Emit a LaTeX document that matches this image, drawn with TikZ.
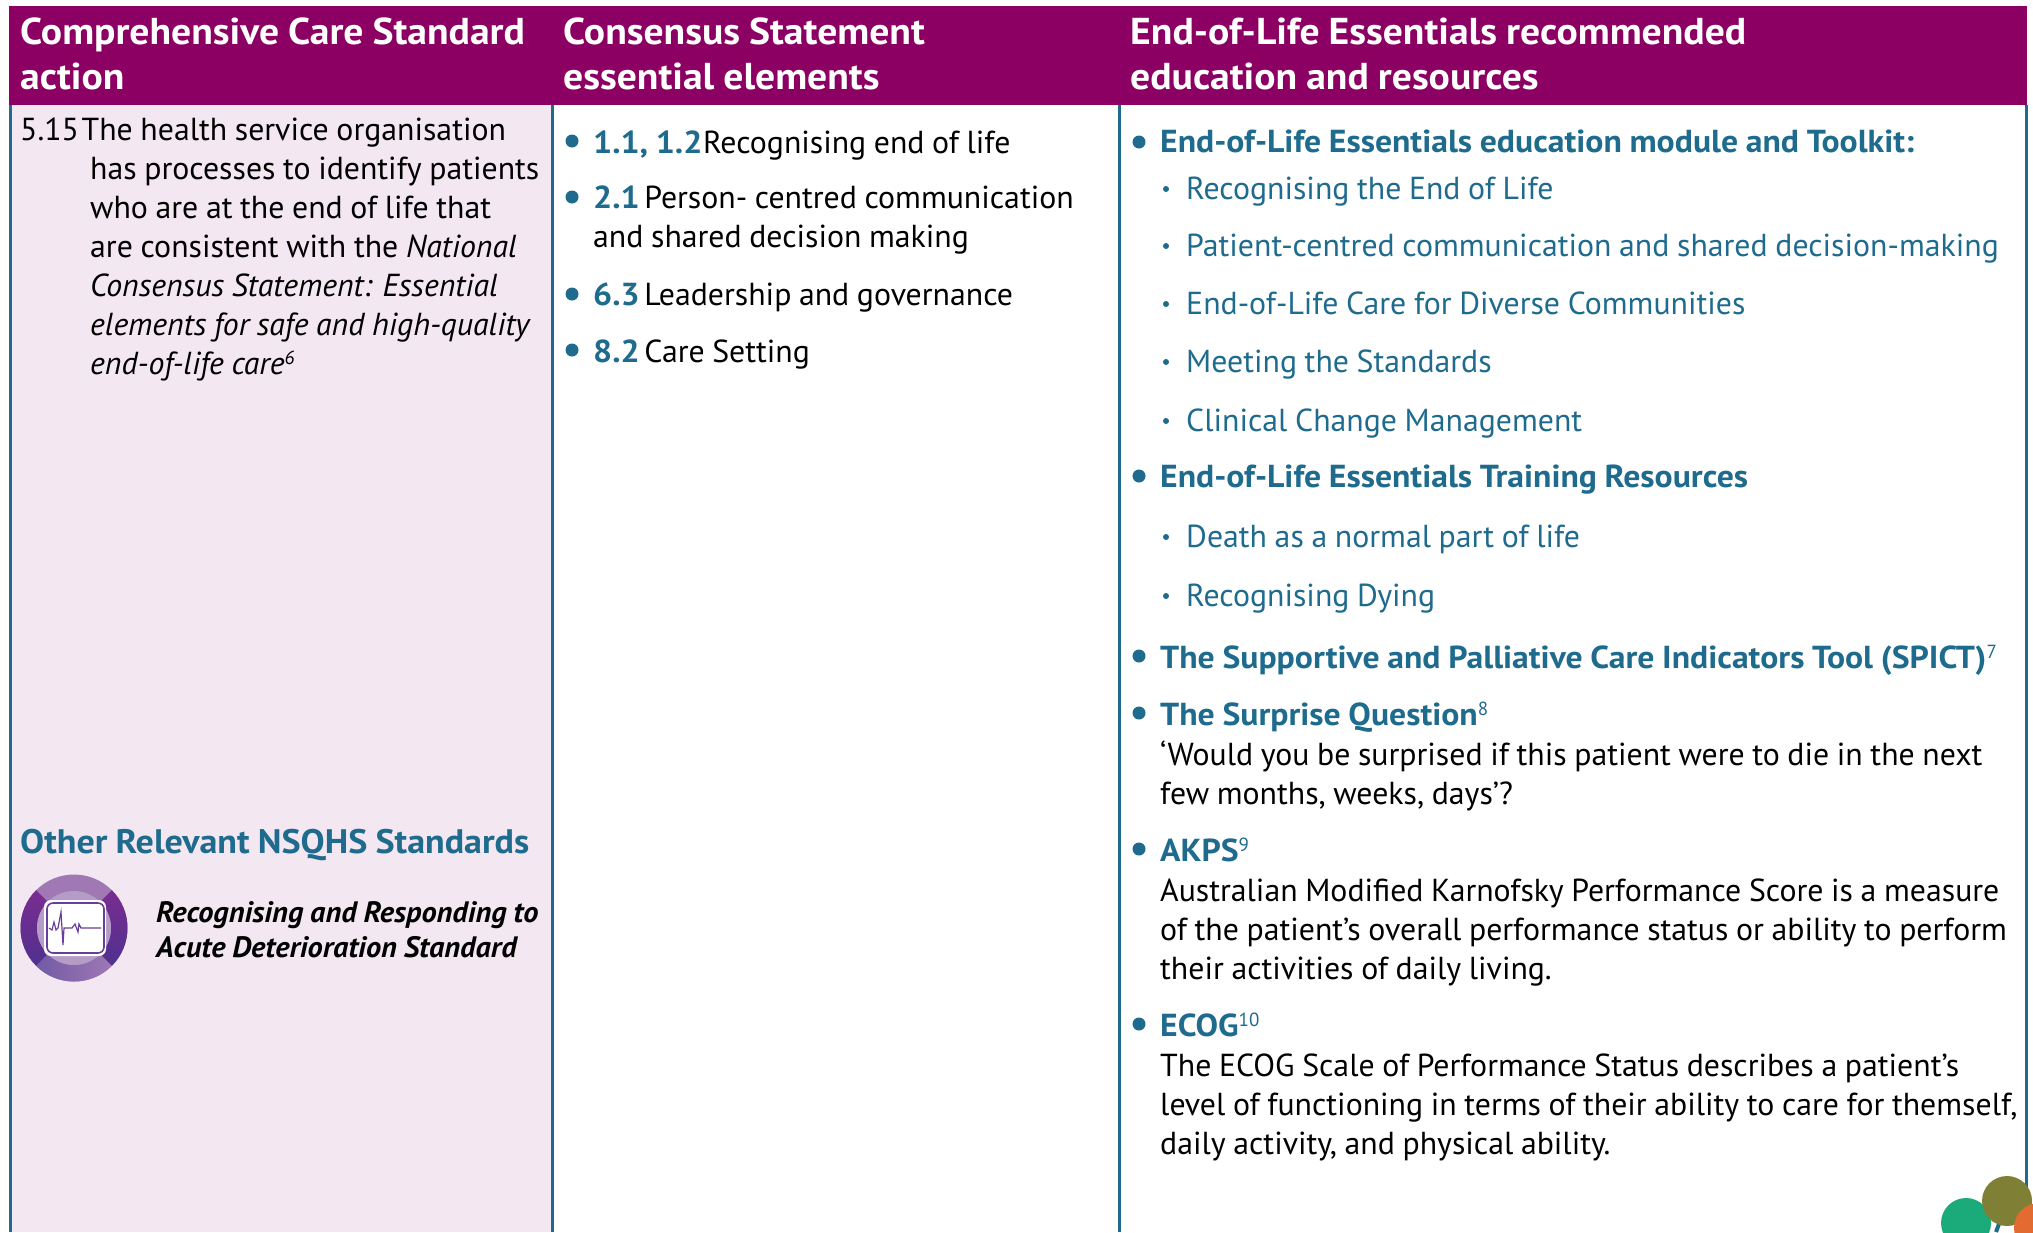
\documentclass[tikz,border=0pt]{standalone}
\usepackage{fontspec}
\setmainfont{PT Sans}[WordSpace=0.9,BoldFeatures={FakeStretch=1.06},BoldItalicFeatures={FakeStretch=1.03}]
\definecolor{headcol}{HTML}{8B0062}
\definecolor{topiccol}{HTML}{1F6B8E}
\definecolor{panecol}{HTML}{F3E7F2}
\definecolor{ringlight}{HTML}{9F78B4}
\definecolor{ringinner}{HTML}{B49CC6}
\definecolor{ringpurple}{HTML}{7A2C90}
\definecolor{ringblue}{HTML}{4F318F}
\definecolor{traceline}{HTML}{6A3D9A}
\definecolor{dotgreen}{HTML}{1BAA7A}
\definecolor{dotolive}{HTML}{7F8035}
\definecolor{dotorange}{HTML}{E36A30}
\newcommand{\notemark}[1]{\raisebox{10pt}{\fontsize{19}{19}\selectfont\mdseries #1}}
\tikzset{
  headtext/.style={anchor=base west,inner sep=0,align=left,text=white,font=\fontsize{37.4}{45}\selectfont\bfseries},
  bodytext/.style={anchor=base west,inner sep=0,align=left,text=black,font=\fontsize{31.8}{39}\selectfont},
  subtext/.style={bodytext,text=topiccol},
  toptext/.style={bodytext,text=topiccol,font=\fontsize{31.8}{39}\selectfont\bfseries},
  stdtext/.style={anchor=base west,inner sep=0,align=left,text=black,font=\fontsize{29.5}{35}\selectfont\bfseries\itshape},
  colline/.style={draw=topiccol,line width=3},
  bigdot/.style={fill=topiccol},
}
\begin{document}
\begin{tikzpicture}[x=1pt,y=-1pt]

    \useasboundingbox (0,0) rectangle (2033,1232);
    \clip (0,0) rectangle (2033,1232);

    \fill[white] (0,0) rectangle (2033,1232);
    \fill[panecol] (10,105) rectangle (552,1232);
    \draw[colline] (10,105) -- (10,1232);
    \draw[colline] (552,105) -- (552,1232);
    \draw[colline] (1119,105) -- (1119,1232);
    \draw[colline] (2026,105) -- (2026,1232);
    \fill[headcol] (9,6) rectangle (2027,105);

    % header row
    \node[headtext] (headaction) at (20,89) {Comprehensive Care Standard\\action};
    \node[headtext] (headconsensus) at (563,89) {Consensus Statement\\essential elements};
    \node[headtext] (headessentials) at (1130,89) {End-of-Life Essentials recommended\\education and resources};

    % first column
    \node[bodytext] (actionno) at (20,140) {5.15\kern-5pt{} The health service organisation};
    \node[bodytext] (actionrest) at (90,374) {has processes to identify patients\\who are at the end of life that\\are consistent with the \textit{National}\\\textit{Consensus Statement: Essential}\\\textit{elements for safe and high-quality}\\\textit{end-of-life care\notemark{6}}};

    \node[toptext,font=\fontsize{34}{39}\selectfont\bfseries] (otherhead) at (20,853) {Other Relevant NSQHS Standards};
    \node[stdtext] (stdname) at (156,957) {Recognising and Responding to\\Acute Deterioration Standard};

    \begin{scope}[shift={(74pt,-928pt)},x=1pt,y=1pt]

      \fill[ringlight] (0,0) circle (53.5);
      \shade[top color=ringpurple,bottom color=ringblue]
      (135:53.5) arc (135:225:53.5) -- (225:37) arc (225:135:37) -- cycle;
      \shade[top color=ringpurple,bottom color=ringblue]
      (45:53.5) arc (45:-45:53.5) -- (-45:37) arc (-45:45:37) -- cycle;
      \shade[left color=ringblue!80!white,right color=ringlight]
      (-135:53.5) arc (-135:-45:53.5) -- (-45:37) arc (-45:-135:37) -- cycle;
      \fill[ringinner] (0,0) circle (37);
      \fill[white,rounded corners=7] (-30,-28) rectangle (32,28);
      \draw[draw=traceline,line width=1.6,fill=white,rounded corners=6] (-27,-25) rectangle (30,25);
      \draw[traceline,line width=1.2]
      (-25,0) -- (-22,-2) -- (-20,6) -- (-18,-2) -- (-16,0) -- (-13,16) -- (-11,-17) -- (-10,0) -- (-2,0) -- (1,4) -- (4,-4) -- (5,4) -- (7,0) -- (27,0);

    \end{scope}

    % second column
    \fill[bigdot] (572,141) circle (6.5);
    \node[bodytext] (elemone) at (593,153) {\textcolor{topiccol}{\bfseries 1.1, 1.2}\kern-7pt{} Recognising end of life};
    \fill[bigdot] (572,197) circle (6.5);
    \node[bodytext] (elemtwo) at (593,247) {\textcolor{topiccol}{\bfseries 2.1}\kern-3pt{} Person- centred communication\\and shared decision making};
    \fill[bigdot] (572,294) circle (6.5);
    \node[bodytext] (elemsix) at (593,305) {\textcolor{topiccol}{\bfseries 6.3}\kern-3pt{} Leadership and governance};
    \fill[bigdot] (572,350) circle (6.5);
    \node[bodytext] (elemeight) at (593,362) {\textcolor{topiccol}{\bfseries 8.2}\kern-3pt{} Care Setting};

    % third column
    \fill[bigdot] (1139,142) circle (6.5);
    \node[toptext] (toolkit) at (1160,152) {End-of-Life Essentials education module and Toolkit:};
    \fill[bigdot] (1166,189) circle (3);
    \node[subtext] (subone) at (1186,199) {Recognising the End of Life};
    \fill[bigdot] (1166,246) circle (3);
    \node[subtext] (subtwo) at (1186,256) {Patient-centred communication and shared decision-making};
    \fill[bigdot] (1166,304) circle (3);
    \node[subtext] (subthree) at (1186,314) {End-of-Life Care for Diverse Communities};
    \fill[bigdot] (1166,362) circle (3);
    \node[subtext] (subfour) at (1186,372) {Meeting the Standards};
    \fill[bigdot] (1166,421) circle (3);
    \node[subtext] (subfive) at (1186,431) {Clinical Change Management};

    \fill[bigdot] (1139,476) circle (6.5);
    \node[toptext] (training) at (1160,487) {End-of-Life Essentials Training Resources};
    \fill[bigdot] (1166,537) circle (3);
    \node[subtext] (subsix) at (1186,547) {Death as a normal part of life};
    \fill[bigdot] (1166,596) circle (3);
    \node[subtext] (subseven) at (1186,606) {Recognising Dying};

    \fill[bigdot] (1139,656) circle (6.5);
    \node[toptext] (spict) at (1160,668) {The Supportive and Palliative Care Indicators Tool (SPICT)\notemark{7}};
    \fill[bigdot] (1139,713) circle (6.5);
    \node[toptext] (surprise) at (1160,725) {The Surprise Question\notemark{8}};
    \node[bodytext] (surprisetext) at (1160,804) {‘Would you be surprised if this patient were to die in the next\\few months, weeks, days’?};
    \fill[bigdot] (1139,849) circle (6.5);
    \node[toptext] (akps) at (1160,861) {AKPS\notemark{9}};
    \node[bodytext] (akpstext) at (1160,979) {Australian Modified Karnofsky Performance Score is a measure\\of the patient’s overall performance status or ability to perform\\their activities of daily living.};
    \fill[bigdot] (1139,1024) circle (6.5);
    \node[toptext] (ecog) at (1160,1036) {ECOG\notemark{10}};
    \node[bodytext] (ecogtext) at (1160,1154) {The ECOG Scale of Performance Status describes a patient’s\\level of functioning in terms of their ability to care for themself,\\daily activity, and physical ability.};

    % corner mark
    \draw[topiccol,line width=4] (1996,1232) -- (2006,1205);
    \fill[dotgreen] (1966,1223) circle (25);
    \fill[dotolive] (2007,1201) circle (25);
    \fill[dotorange] (2039,1228) circle (25);

  \end{tikzpicture}
\end{document}
